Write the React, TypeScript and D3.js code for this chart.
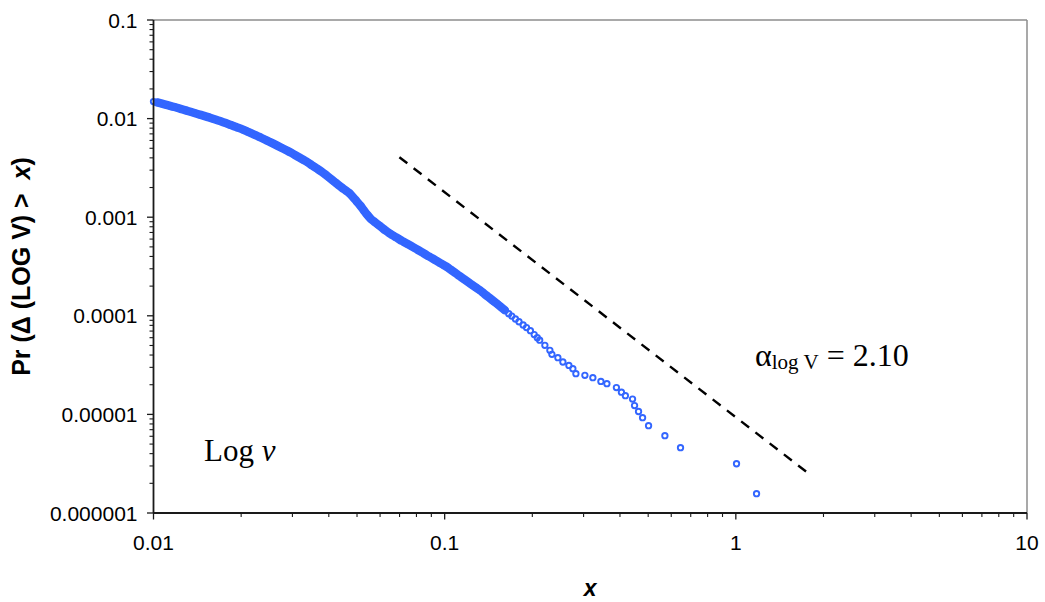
import React from "react";
import * as d3 from "d3";

const denseX = [
  0.01, 0.0103, 0.0107, 0.011, 0.0114, 0.0118, 0.0122, 0.0126, 0.013, 0.0134,
  0.0139, 0.0144, 0.0149, 0.0154, 0.0159, 0.0165, 0.0171, 0.0177, 0.0183, 0.0189,
  0.0196, 0.0203, 0.021, 0.0217, 0.0225, 0.0233, 0.0241, 0.0249, 0.0258, 0.0267,
  0.0276, 0.0286, 0.0296, 0.0306, 0.0317, 0.0328, 0.0339, 0.0351, 0.0363, 0.0376,
  0.0389, 0.0403, 0.0417, 0.0431, 0.0444, 0.0457, 0.047, 0.0484, 0.0498, 0.0512,
  0.0527, 0.0542, 0.0558, 0.0574, 0.0591, 0.0608, 0.0626, 0.0644, 0.0663, 0.0682,
  0.0702, 0.0722, 0.0743, 0.0765, 0.0787, 0.081, 0.0834, 0.0858, 0.0883, 0.0909,
  0.0935, 0.0962, 0.099, 0.102, 0.105, 0.108, 0.111, 0.114, 0.117, 0.121,
  0.124, 0.128, 0.132, 0.135, 0.139, 0.143, 0.148, 0.152, 0.156, 0.161,
  0.166, 0.17, 0.175, 0.18, 0.186, 0.191, 0.197, 0.203, 0.208, 0.212,
];
const denseY = [
  0.01489, 0.01457, 0.01415, 0.01385, 0.01348, 0.01311, 0.01273, 0.01238, 0.01204, 0.01172,
  0.01134, 0.01099, 0.01066, 0.01034, 0.01002, 0.009665, 0.009333, 0.009, 0.008678, 0.008377,
  0.00805, 0.007718, 0.007389, 0.007084, 0.006763, 0.00644, 0.00614, 0.005857, 0.005567, 0.00529,
  0.005035, 0.004774, 0.00453, 0.004279, 0.004028, 0.0038, 0.003587, 0.003347, 0.003133, 0.002921,
  0.002713, 0.002495, 0.002302, 0.002129, 0.00199, 0.00187, 0.001759, 0.001604, 0.001454, 0.001321,
  0.001181, 0.001059, 0.000959, 0.000898, 0.000839, 0.000786, 0.000734, 0.000692, 0.000656, 0.000623,
  0.000591, 0.000564, 0.000538, 0.000513, 0.000489, 0.000465, 0.000442, 0.000421, 0.0004, 0.000381,
  0.000363, 0.000345, 0.000328, 0.000312, 0.000293, 0.000276, 0.00026, 0.000246, 0.000233, 0.0002175,
  0.000207, 0.000194, 0.000182, 0.000173, 0.000161, 0.000151, 0.000139, 0.000131, 0.000123, 0.000114,
  0.000105, 0.0000993, 0.0000928, 0.000087, 0.0000807, 0.0000759, 0.0000706, 0.0000645, 0.0000599, 0.0000566,
];
// Sparse tail points
const tailX = [
  0.2209, 0.2298, 0.2335, 0.2448, 0.2547, 0.2671, 0.2756, 0.2823, 0.3031, 0.3228,
  0.344, 0.3607, 0.3889, 0.4046, 0.4175, 0.4418, 0.4489, 0.4633, 0.4783, 0.5015,
  0.5706, 0.6457, 1.0055, 1.178,
];
const tailY = [
  5.02e-5, 4.47e-5, 4.07e-5, 3.76e-5, 3.4e-5, 3.14e-5, 2.91e-5, 2.59e-5, 2.49e-5, 2.36e-5,
  2.16e-5, 2.05e-5, 1.87e-5, 1.68e-5, 1.55e-5, 1.43e-5, 1.23e-5, 1.07e-5, 9.26e-6, 7.68e-6,
  6.08e-6, 4.6e-6, 3.16e-6, 1.57e-6,
];
// Reference power-law line (alpha = 2.10)
const refLineX = [0.0699, 1.764];
const refLineY = [0.00406, 2.56e-6];

const xTickValues = [0.01, 0.1, 1, 10];
const xTickLabels = ["0.01", "0.1", "1", "10"];
const yTickValues = [0.1, 0.01, 0.001, 0.0001, 0.00001, 0.000001];
const yTickLabels = ["0.1", "0.01", "0.001", "0.0001", "0.00001", "0.000001"];

const W = 1045;
const H = 602;
const L = 153.5, R = 1027, T = 20, B = 513;

export default function App() {
  const x = d3.scaleLog().domain([0.01, 10]).range([L, R]);
  const y = d3.scaleLog().domain([1e-6, 0.1]).range([B, T]);

  const densePts = denseX.map((v, i) => [v, denseY[i]] as [number, number]);
  const points = [
    ...densePts,
    ...tailX.map((v, i) => [v, tailY[i]] as [number, number]),
  ];

  const minorX: number[] = [];
  for (const dec of [0.01, 0.1, 1]) for (let k = 2; k <= 9; k++) minorX.push(dec * k);
  const minorY: number[] = [];
  for (const dec of [1e-6, 1e-5, 1e-4, 1e-3, 1e-2]) for (let k = 2; k <= 9; k++) minorY.push(dec * k);

  const refLine = d3.line<number>().x((_, i) => x(refLineX[i])).y((_, i) => y(refLineY[i]));
  const band = d3
    .line<[number, number]>()
    .x((d) => x(d[0]))
    .y((d) => y(d[1]))
    .curve(d3.curveMonotoneX);

  const blue = "#3366FF";
  const axisColor = "#1a1a1a";
  const sans = "'Liberation Sans', Arial, sans-serif";
  const serif = "'Liberation Serif', 'Times New Roman', serif";

  return (
    <svg width={W} height={H} style={{ position: "absolute", left: 0, top: 0, background: "#fff" }}>
      {/* frame top/right */}
      <line x1={L} x2={R} y1={T} y2={T} stroke="#8c8c8c" strokeWidth={1.5} />
      <line x1={R} x2={R} y1={T} y2={B} stroke="#8c8c8c" strokeWidth={1.5} />

      {/* overlapping markers in the dense region form a solid band */}
      <path
        d={band(densePts.slice(1, 90)) || ""}
        fill="none"
        stroke={blue}
        strokeWidth={8.5}
        strokeLinecap="round"
        strokeLinejoin="round"
      />
      {/* points */}
      <g>
        {points.map((p, i) => (
          <circle key={i} cx={x(p[0])} cy={y(p[1])} r={2.7} fill="none" stroke={blue} strokeWidth={1.9} />
        ))}
      </g>

      {/* reference dashed line */}
      <path d={refLine([0, 1]) || ""} stroke="#000" strokeWidth={2.4} strokeDasharray="10,8" fill="none" />

      {/* axes */}
      <line x1={L} x2={L} y1={T} y2={B} stroke={axisColor} strokeWidth={1.8} />
      <line x1={L} x2={R} y1={B} y2={B} stroke={axisColor} strokeWidth={1.8} />

      {yTickValues.map((v) => (
        <line key={"yt" + v} x1={L - 6.5} x2={L} y1={y(v)} y2={y(v)} stroke={axisColor} strokeWidth={1.3} />
      ))}
      {minorY.map((v, i) => (
        <line key={"ym" + i} x1={L - 4} x2={L} y1={y(v)} y2={y(v)} stroke={axisColor} strokeWidth={1.1} />
      ))}
      {xTickValues.map((v) => (
        <line key={"xt" + v} x1={x(v)} x2={x(v)} y1={B} y2={B + 6.5} stroke={axisColor} strokeWidth={1.3} />
      ))}
      {minorX.map((v, i) => (
        <line key={"xm" + i} x1={x(v)} x2={x(v)} y1={B} y2={B + 4} stroke={axisColor} strokeWidth={1.1} />
      ))}

      {yTickValues.map((v, i) => (
        <text key={"yl" + v} x={L - 16} y={y(v)} dy="0.36em" textAnchor="end" fontFamily={sans} fontSize={21} fill="#000">
          {yTickLabels[i]}
        </text>
      ))}
      {xTickValues.map((v, i) => (
        <text key={"xl" + v} x={x(v)} y={550} textAnchor="middle" fontFamily={sans} fontSize={21} fill="#000">
          {xTickLabels[i]}
        </text>
      ))}

      {/* axis titles */}
      <text x={(L + R) / 2} y={596} textAnchor="middle" fontFamily={sans} fontSize={23} fontWeight="bold" fontStyle="italic">
        x
      </text>
      <text
        transform={`translate(30, ${(T + B) / 2}) rotate(-90)`}
        textAnchor="middle"
        fontFamily={sans}
        fontSize={25}
        fontWeight="bold"
      >
        Pr (Δ (LOG V) &gt;{"\u00a0\u00a0"}<tspan fontStyle="italic">x</tspan>)
      </text>

      {/* annotations */}
      <text x={204} y={461} fontFamily={serif} fontSize={31}>
        Log <tspan fontStyle="italic">v</tspan>
      </text>
      <text x={755} y={366} fontFamily={serif} fontSize={32}>
        α<tspan fontSize={21} dy={3}>log V</tspan>
        <tspan dy={-3}> = 2.10</tspan>
      </text>
    </svg>
  );
}
